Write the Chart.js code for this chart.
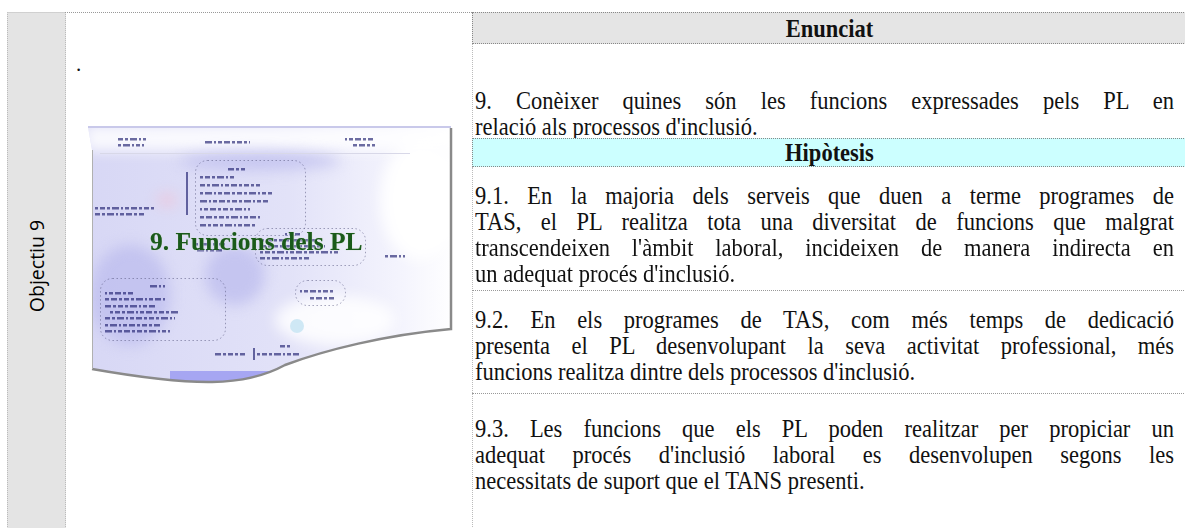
<!DOCTYPE html>
<html>
<head>
<meta charset="utf-8">
<script src="https://cdn.jsdelivr.net/npm/chart.js@4.4.1/dist/chart.umd.min.js"></script>
<style>
  html, body { margin: 0; padding: 0; background: #fff; }
  body { width: 1185px; height: 528px; overflow: hidden; position: relative; font-family: "Liberation Serif", "Times New Roman", serif; color: #111; }
  .abs { position: absolute; }
  .left-col { left: 7px; top: 12px; width: 57px; height: 530px; background: #e4e4e4; border-left: 1px dotted #bbb; border-right: 1px dotted #bbb; border-top: 1px solid #d0d0d0; }
  .objectiu { left: 36px; top: 266px; transform: translate(-50%, -50%) rotate(-90deg); font-family: "Open Sans", sans-serif; font-size: 19.5px; white-space: nowrap; color: #000; }
  .mid-top { left: 65px; top: 12px; width: 407px; border-top: 1px dotted #999; }
  .head { left: 472px; width: 720px; border-top: 1px dotted #888; border-bottom: 1px dotted #888; border-left: 1px dotted #888; font-weight: bold; font-size: 22.5px; text-align: center; box-sizing: border-box; padding-right: 6px; }
  .head span { display: inline-block; transform: scaleY(1.08); }
  .vline { left: 472px; border-left: 1px dotted #bbb; }
  .hline { left: 472px; width: 720px; border-top: 1px dotted #999; }
  .para { left: 475px; width: 699px; font-size: 22.5px; line-height: 26px; }
  .para div { text-align: justify; text-align-last: justify; white-space: nowrap; transform: scaleY(1.08); }
  .para div.last { text-align-last: left; }
  .title { left: 150px; top: 227px; font-weight: bold; font-size: 25.5px; color: #1a5a1a; white-space: nowrap; text-shadow: 0 0 2px rgba(255,255,255,0.9), 0 0 1px rgba(30,90,30,0.6); }
</style>
</head>
<body>

<div class="abs left-col"></div>
<div class="abs objectiu" id="objectiu"></div>
<div class="abs mid-top"></div>
<div class="abs" style="left:76px; top:52px; font-size:21px;">.</div>

<canvas id="thumb" class="abs" width="370" height="265" style="left:85px; top:125px;"></canvas>
<div class="abs title" id="thumbTitle"></div>

<div class="abs head" style="top:12px; height:32px; line-height:31px; background:#e5e5e5;"><span id="head1"></span></div>
<div class="abs vline" style="top:44px; height:95px;"></div>
<div class="abs para" id="p0" style="top:88px;"></div>
<div class="abs head" style="top:138px; height:29px; line-height:28px; background:#ccffff;"><span id="head2"></span></div>
<div class="abs vline" style="top:167px; height:370px;"></div>
<div class="abs para" id="p1" style="top:183px;"></div>
<div class="abs hline" style="top:290px;"></div>
<div class="abs para" id="p2" style="top:307px;"></div>
<div class="abs hline" style="top:393px;"></div>
<div class="abs para" id="p3" style="top:416px;"></div>

<script>
// textos de la fitxa
const objectiuLabel = 'Objectiu 9'
const thumbTitle = '9. Funcions dels PL'
const headers = ['Enunciat', 'Hipòtesis']
const enunciatLines = [
    '9. Conèixer quines són les funcions expressades pels PL en',
    'relació als processos d\'inclusió.'
]
const hipotesi1Lines = [
    '9.1. En la majoria dels serveis que duen a terme programes de',
    'TAS, el PL realitza tota una diversitat de funcions que malgrat',
    'transcendeixen l\'àmbit laboral, incideixen de manera indirecta en',
    'un adequat procés d\'inclusió.'
]
const hipotesi2Lines = [
    '9.2. En els programes de TAS, com més temps de dedicació',
    'presenta el PL desenvolupant la seva activitat professional, més',
    'funcions realitza dintre dels processos d\'inclusió.'
]
const hipotesi3Lines = [
    '9.3. Les funcions que els PL poden realitzar per propiciar un',
    'adequat procés d\'inclusió laboral es desenvolupen segons les',
    'necessitats de suport que el TANS presenti.'
]

// omplir les línies justificades
const fillPara = (id, lines) => {
    const el = document.getElementById(id)
    el.innerHTML = lines.map((line, i) => {
        const cls = i === lines.length - 1 ? 'last' : ''
        return `<div class="${cls}">${line}</div>`
    }).join('')
}

document.getElementById('objectiu').textContent = objectiuLabel
document.getElementById('thumbTitle').textContent = thumbTitle
document.getElementById('head1').textContent = headers[0]
document.getElementById('head2').textContent = headers[1]
fillPara('p0', enunciatLines)
fillPara('p1', hipotesi1Lines)
fillPara('p2', hipotesi2Lines)
fillPara('p3', hipotesi3Lines)

// miniatura del mapa conceptual (imatge reduïda i borrosa)
const dottedBoxes = [[110, 35, 110, 75], [170, 103, 110, 37], [15, 153, 125, 62], [210, 155, 50, 25]]
const textDashes = [
    [33, 13, 28], [33, 19, 26], [120, 16, 45], [260, 13, 30], [268, 19, 22],
    [143, 43, 17], [115, 51, 35], [115, 59, 60], [115, 67, 72], [115, 75, 68], [115, 83, 50], [115, 91, 60], [115, 99, 55],
    [10, 82, 60], [10, 88, 50], [110, 118, 30], [112, 124, 26],
    [200, 108, 15], [175, 114, 55], [175, 120, 65], [175, 126, 80], [175, 132, 50],
    [300, 130, 20],
    [65, 160, 15], [20, 167, 30], [20, 173, 60], [20, 180, 50], [25, 186, 70], [20, 192, 70], [20, 199, 55], [20, 205, 65],
    [215, 165, 35], [225, 172, 25],
    [130, 228, 30], [172, 228, 42], [195, 220, 12]
]
const dashPattern = [5, 3, 7, 2, 4, 6, 3]

const thumbPlugin = {
    id: 'thumbPicture',
    beforeDatasetsDraw(chart) {
        const { ctx, scales: { x, y } } = chart
        const px = v => x.getPixelForValue(v)
        const py = v => y.getPixelForValue(v)

        const pagePath = () => {
            ctx.beginPath()
            ctx.moveTo(px(3), py(2))
            ctx.lineTo(px(366), py(2))
            ctx.lineTo(px(366), py(204))
            ctx.bezierCurveTo(px(300), py(210), px(240), py(225), px(200), py(240))
            ctx.bezierCurveTo(px(160), py(262), px(110), py(262), px(7), py(244))
            ctx.lineTo(px(7), py(25))
            ctx.closePath()
        }

        ctx.save()
        pagePath()
        const grad = ctx.createLinearGradient(px(0), 0, px(370), 0)
        grad.addColorStop(0, '#d7d7f5')
        grad.addColorStop(0.55, '#e2e2f8')
        grad.addColorStop(0.85, '#f4f4fd')
        grad.addColorStop(1, '#ffffff')
        ctx.fillStyle = grad
        ctx.fill()
        ctx.save()
        ctx.clip()

        // zones clares i fosques
        ctx.filter = 'blur(7px)'
        ctx.fillStyle = 'rgba(255,255,255,0.95)'
        ctx.beginPath(); ctx.ellipse(px(335), py(75), 40, 60, 0, 0, Math.PI * 2); ctx.fill()
        ctx.fillStyle = 'rgba(255,255,255,0.85)'
        ctx.fillRect(px(0), py(0), 370, 26)
        ctx.beginPath(); ctx.ellipse(px(250), py(195), 60, 25, 0, 0, Math.PI * 2); ctx.fill()
        ctx.fillStyle = 'rgba(188,188,238,0.75)'
        ctx.beginPath(); ctx.ellipse(px(175), py(36), 80, 9, 0, 0, Math.PI * 2); ctx.fill()
        ctx.beginPath(); ctx.ellipse(px(45), py(170), 40, 50, 0, 0, Math.PI * 2); ctx.fill()
        ctx.beginPath(); ctx.ellipse(px(150), py(150), 30, 30, 0, 0, Math.PI * 2); ctx.fill()
        ctx.fillStyle = 'rgba(240,195,215,0.8)'
        ctx.beginPath(); ctx.ellipse(px(82), py(75), 10, 6, 0, 0, Math.PI * 2); ctx.fill()
        ctx.filter = 'none'

        // franja blava inferior
        ctx.fillStyle = '#a6a6f2'
        ctx.fillRect(px(85), py(246), 125, 16)
        ctx.restore()

        // línia de capçalera
        ctx.strokeStyle = '#d8d8e8'
        ctx.lineWidth = 1
        ctx.beginPath(); ctx.moveTo(px(15), py(28) + 0.5); ctx.lineTo(px(325), py(28) + 0.5); ctx.stroke()

        // caixes puntejades
        ctx.filter = 'blur(0.4px)'
        ctx.setLineDash([1.5, 2.5])
        ctx.strokeStyle = 'rgba(90,90,130,0.55)'
        dottedBoxes.forEach(([bx, by, bw, bh]) => {
            ctx.beginPath()
            ctx.roundRect(px(bx) + 0.5, py(by) + 0.5, bw, bh, 12)
            ctx.stroke()
        })
        ctx.setLineDash([])

        // text minúscul
        ctx.filter = 'blur(0.7px)'
        ctx.fillStyle = 'rgba(30,30,110,0.65)'
        textDashes.forEach(([tx, ty, tw], row) => {
            let k = 0
            let j = row
            while (k < tw) {
                const w = Math.min(dashPattern[j % dashPattern.length], tw - k)
                ctx.fillRect(px(tx + k), py(ty), w, 2.5)
                k += w + 2
                j++
            }
        })
        ctx.fillRect(px(101), py(47), 2, 43)
        ctx.fillRect(px(168), py(223), 2, 12)
        ctx.filter = 'none'

        // flor
        ctx.fillStyle = '#cfe8f5'
        ctx.beginPath(); ctx.arc(px(212), py(201), 7, 0, Math.PI * 2); ctx.fill()

        // vores i ombra
        ctx.strokeStyle = '#c9c9ea'
        ctx.lineWidth = 2
        ctx.beginPath(); ctx.moveTo(px(3), py(2)); ctx.lineTo(px(366), py(2)); ctx.stroke()
        ctx.strokeStyle = '#8a8a8a'
        ctx.lineWidth = 2.5
        ctx.beginPath()
        ctx.moveTo(px(366), py(3))
        ctx.lineTo(px(366), py(204))
        ctx.bezierCurveTo(px(300), py(210), px(240), py(225), px(200), py(240))
        ctx.bezierCurveTo(px(160), py(262), px(110), py(262), px(7), py(244))
        ctx.stroke()
        ctx.strokeStyle = '#b0b0b0'
        ctx.lineWidth = 1
        ctx.beginPath(); ctx.moveTo(px(7) + 0.5, py(25)); ctx.lineTo(px(7) + 0.5, py(244)); ctx.stroke()
        ctx.restore()
    }
}

new Chart(document.getElementById('thumb'), {
    type: 'scatter',
    data: { datasets: [{ data: [] }] },
    options: {
        responsive: false,
        animation: false,
        devicePixelRatio: 1,
        layout: { padding: 0 },
        plugins: { legend: { display: false }, tooltip: { enabled: false } },
        scales: {
            x: { type: 'linear', min: 0, max: 370, display: false },
            y: { type: 'linear', min: 0, max: 265, reverse: true, display: false }
        }
    },
    plugins: [thumbPlugin]
})
</script>
</body>
</html>
